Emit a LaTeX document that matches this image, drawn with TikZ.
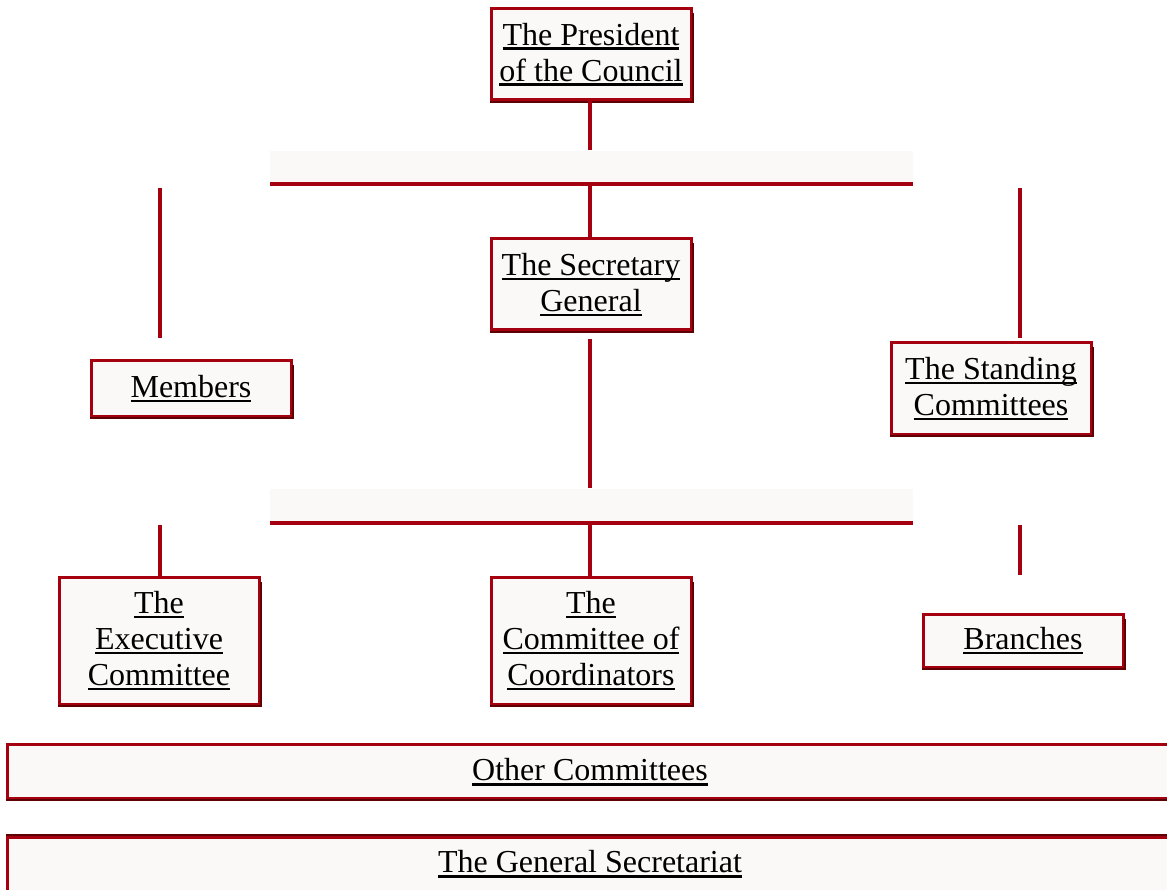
\documentclass[tikz,border=0pt]{standalone}
\usepackage{fontspec}
\setmainfont{Liberation Serif}
\usetikzlibrary{calc}
\definecolor{boxred}{RGB}{165,0,16}
\definecolor{boxdark}{RGB}{95,0,5}
\definecolor{boxfill}{RGB}{251,249,248}
\newcommand\myul[1]{\setbox0\hbox{#1}\rlap{\rule[-5pt]{\wd0}{2.6pt}}\box0}
\begin{document}
\begin{tikzpicture}[x=1pt,y=-1pt,
  orgbox/.style={draw=boxred, line width=3pt, fill=boxfill, align=center,
    inner sep=0pt, font=\fontsize{32}{36}\selectfont, text=black},
  shade/.style={draw=boxdark, line width=2pt},
  conn/.style={draw=boxred, line width=4pt},
  barfill/.style={fill=boxfill, draw=none, inner sep=0pt}]
\useasboundingbox (0,0) rectangle (1167,890);
% boxes
\node[orgbox, minimum width=200, minimum height=91] (pres) at (591,54.5) {\myul{The President}\\\myul{of the Council}};
\node[orgbox, minimum width=200, minimum height=91] (sec) at (591,284.5) {\myul{The Secretary}\\\myul{General}};
\node[orgbox, minimum width=200, minimum height=55] (mem) at (191,388.5) {\myul{Members}};
\node[orgbox, minimum width=200, minimum height=91] (stand) at (991,388.5) {\myul{The Standing}\\\myul{Committees}};
\node[orgbox, minimum width=200, minimum height=127] (exec) at (159,640.5) {\myul{The}\\\myul{Executive}\\\myul{Committee}};
\node[orgbox, minimum width=200, minimum height=127] (coord) at (591,640.5) {\myul{The}\\\myul{Committee of}\\\myul{Coordinators}};
\node[orgbox, minimum width=200, minimum height=53] (branch) at (1023,640.5) {\myul{Branches}};
\node[orgbox, minimum width=1180, minimum height=54] (other) at (597,771) {};
\node[font=\fontsize{32}{36}\selectfont] (othert) at (590,772) {\myul{Other Committees}};
\node[orgbox, minimum width=1180, minimum height=54] (gensec) at (597,864) {};
\node[font=\fontsize{32}{36}\selectfont] (gensect) at (590,864) {\myul{The General Secretariat}};
% shading on right/bottom edges
\foreach \n in {pres,sec,mem,stand,exec,coord,branch}{
  \draw[shade] ($(\n.north east)+(0.5,6)$) -- ($(\n.south east)+(0.5,0.5)$) -- ($(\n.south west)+(0,0.5)$);
}
\draw[shade] ($(other.south west)+(0,0.5)$) -- ($(other.south east)+(0,0.5)$);
\draw[shade] ($(gensec.north west)+(0,-0.5)$) -- ($(gensec.north east)+(0,-0.5)$);
% bars
\node[barfill, minimum width=643, minimum height=33, anchor=north west] (bar1) at (270,151) {};
\node[barfill, minimum width=643, minimum height=33, anchor=north west] (bar2) at (270,489) {};
\draw[conn] (bar1.south west) -- (bar1.south east);
\path (bar2.south west) ++(0,1) coordinate (b2w) (bar2.south east) ++(0,1) coordinate (b2e);
\draw[conn] (b2w) -- (b2e);
% coordinates for connector ends
\coordinate (p1) at (590,150);
\coordinate (l1t) at (160,188);
\coordinate (l1b) at (160,338);
\coordinate (r1t) at (1020,188);
\coordinate (r1b) at (1020,338);
\coordinate (s2) at (590,488);
\coordinate (e2t) at (160,525);
\coordinate (c2t) at (590,525);
\coordinate (br2t) at (1020,525);
\coordinate (br2b) at (1020,575);
% connectors
\draw[conn] (pres.south -| p1) -- (p1);
\draw[conn] (bar1.south -| sec.north) ++(-1,0) -- ($(sec.north)+(-1,0)$);
\draw[conn] (l1t) -- (l1b);
\draw[conn] (r1t) -- (r1b);
\draw[conn] ($(sec.south)+(-1,8)$) -- (s2);
\draw[conn] (e2t) -- (exec.north -| e2t);
\draw[conn] (c2t) -- (coord.north -| c2t);
\draw[conn] (br2t) -- (br2b);
\end{tikzpicture}
\end{document}
